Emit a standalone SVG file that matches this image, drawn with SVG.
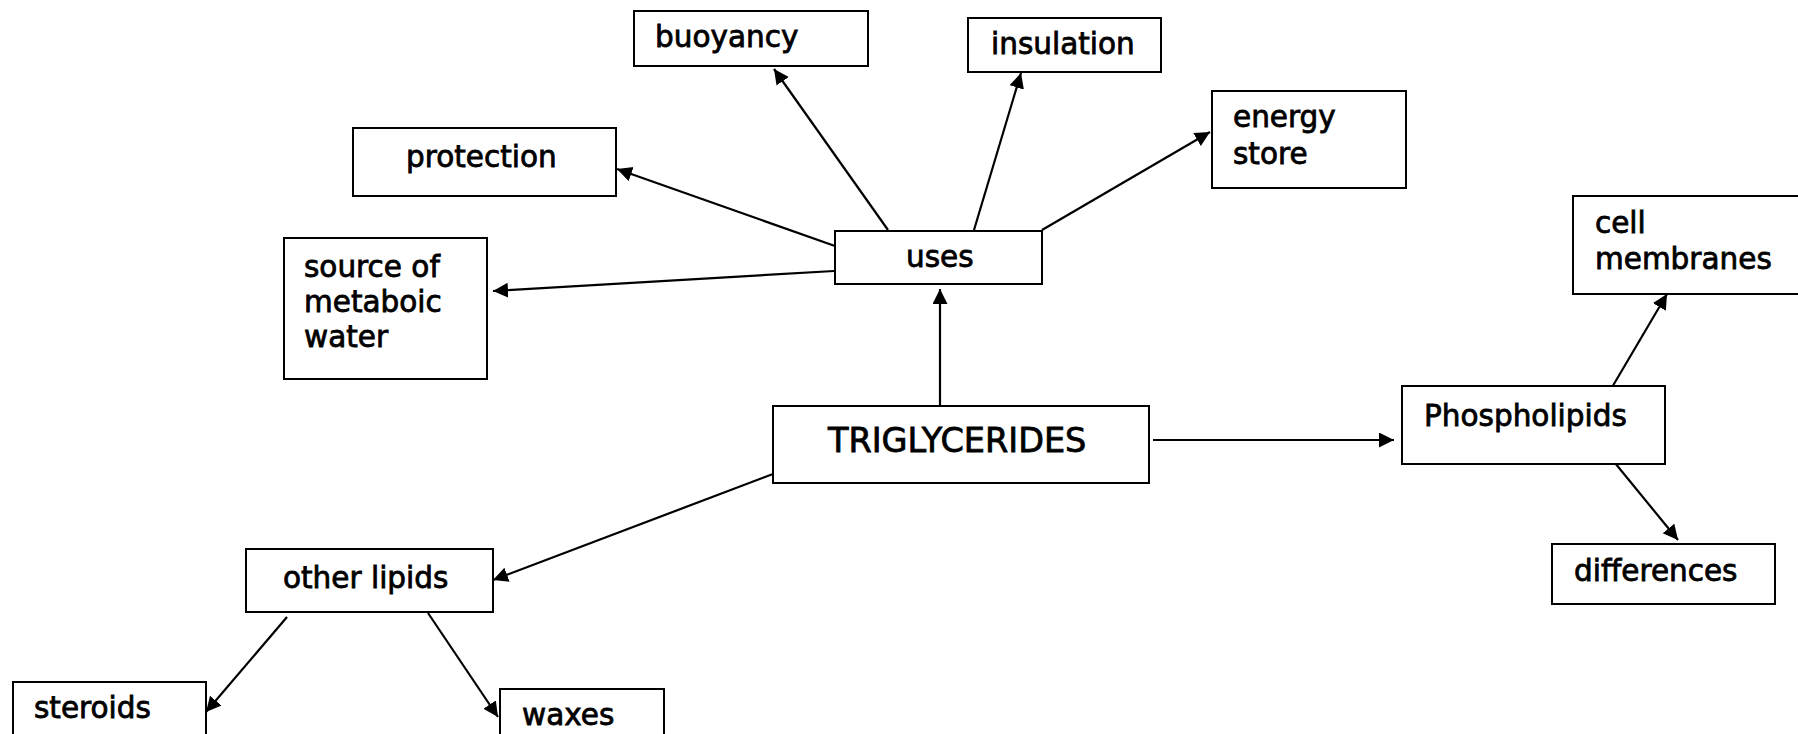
<svg xmlns="http://www.w3.org/2000/svg" width="1798" height="734" viewBox="0 0 1798 734">
<defs>
<marker id="arr" markerUnits="userSpaceOnUse" markerWidth="16" markerHeight="16" refX="15" refY="7.5" orient="auto">
<path d="M0,0 L15,7.5 L0,15 z" fill="#000"/>
</marker>
<style>
.box{fill:#fff;stroke:#000;stroke-width:2}
.t{font-family:"DejaVu Sans","Liberation Sans",sans-serif;font-size:29.5px;fill:#000;stroke:#000;stroke-width:0.8}
.big{font-size:33.5px}
.c{fill:none;stroke:#000;stroke-width:2.2;marker-end:url(#arr)}
</style>
</defs>
<rect width="1798" height="734" fill="#fff"/>
<g id="connectors">
<line class="c" x1="940" y1="411" x2="940" y2="289"/>
<line class="c" x1="888" y1="230" x2="774" y2="69"/>
<line class="c" x1="974" y1="230" x2="1021" y2="73"/>
<line class="c" x1="1042" y1="230" x2="1210" y2="132"/>
<line class="c" x1="835" y1="246" x2="617" y2="169"/>
<line class="c" x1="834" y1="271" x2="493" y2="291"/>
<line class="c" x1="1153" y1="440" x2="1394" y2="440"/>
<line class="c" x1="1611" y1="389" x2="1667" y2="294"/>
<line class="c" x1="1615" y1="463" x2="1678" y2="540"/>
<line class="c" x1="773" y1="474" x2="493" y2="580"/>
<line class="c" x1="287" y1="617" x2="206" y2="712"/>
<line class="c" x1="428" y1="613" x2="498" y2="717"/>
</g>
<g id="buoyancy"><rect class="box" x="634" y="11" width="234" height="55"/><text class="t" x="655" y="47">buoyancy</text></g>
<g id="insulation"><rect class="box" x="968" y="18" width="193" height="54"/><text class="t" x="991" y="54">insulation</text></g>
<g id="protection"><rect class="box" x="353" y="128" width="263" height="68"/><text class="t" x="406" y="167">protection</text></g>
<g id="energy-store"><rect class="box" x="1212" y="91" width="194" height="97"/><text class="t" x="1233" y="127">energy</text><text class="t" x="1233" y="164">store</text></g>
<g id="source"><rect class="box" x="284" y="238" width="203" height="141"/><text class="t" x="304" y="277">source of</text><text class="t" x="304" y="312">metaboic</text><text class="t" x="304" y="347">water</text></g>
<g id="uses"><rect class="box" x="835" y="231" width="207" height="53"/><text class="t" x="906" y="267">uses</text></g>
<g id="triglycerides"><rect class="box" x="773" y="406" width="376" height="77"/><text class="t big" x="828" y="452">TRIGLYCERIDES</text></g>
<g id="phospholipids"><rect class="box" x="1402" y="386" width="263" height="78"/><text class="t" x="1424" y="426">Phospholipids</text></g>
<g id="cell-membranes"><rect class="box" x="1573" y="196" width="240" height="98"/><text class="t" x="1595" y="233">cell</text><text class="t" x="1595" y="269">membranes</text></g>
<g id="differences"><rect class="box" x="1552" y="544" width="223" height="60"/><text class="t" x="1574" y="581">differences</text></g>
<g id="other-lipids"><rect class="box" x="246" y="549" width="247" height="63"/><text class="t" x="283" y="588">other lipids</text></g>
<g id="steroids"><rect class="box" x="13" y="682" width="193" height="70"/><text class="t" x="34" y="718">steroids</text></g>
<g id="waxes"><rect class="box" x="500" y="689" width="164" height="60"/><text class="t" x="522" y="725">waxes</text></g>
</svg>
